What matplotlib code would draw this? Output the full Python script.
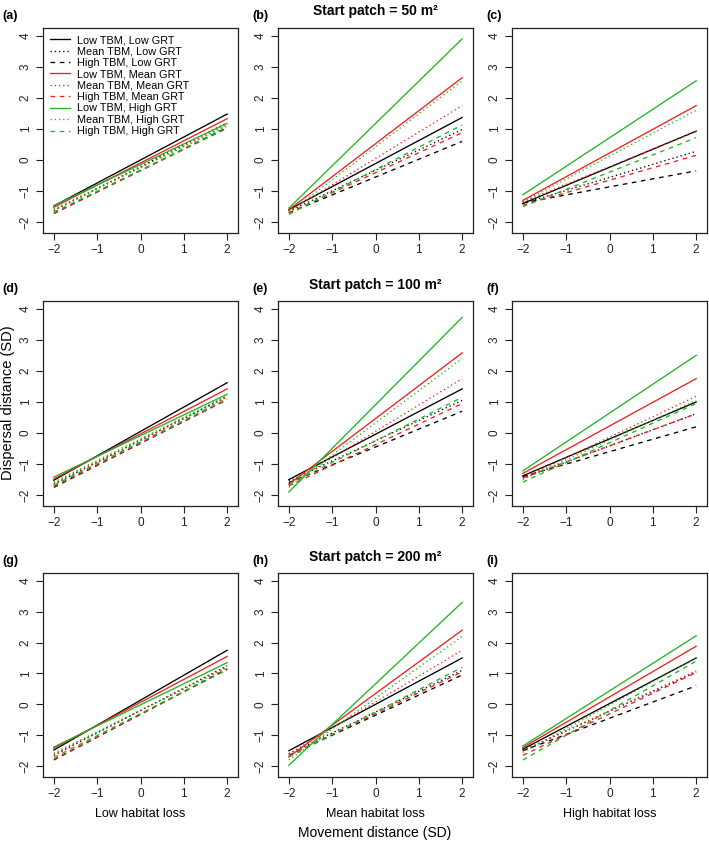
import matplotlib
matplotlib.use('Agg')
import matplotlib.pyplot as plt

plt.rcParams['font.family'] = ['Liberation Sans', 'DejaVu Sans']

# x range of the movement distance (SD)
x_ends = [-2, 2]

series_labels = ['Low TBM, Low GRT', 'Mean TBM, Low GRT', 'High TBM, Low GRT',
                 'Low TBM, Mean GRT', 'Mean TBM, Mean GRT', 'High TBM, Mean GRT',
                 'Low TBM, High GRT', 'Mean TBM, High GRT', 'High TBM, High GRT']

row_titles = ['Start patch = 50 m²', 'Start patch = 100 m²', 'Start patch = 200 m²']
col_labels = ['Low habitat loss', 'Mean habitat loss', 'High habitat loss']
panel_tags = ['(a)', '(b)', '(c)', '(d)', '(e)', '(f)', '(g)', '(h)', '(i)']

# dispersal distance at x=-2 and x=2, one pair per series (legend order)
a_start = [-1.48, -1.62, -1.72, -1.52, -1.62, -1.72, -1.47, -1.58, -1.68]
a_end = [1.48, 1.20, 1.05, 1.33, 1.14, 1.03, 1.18, 1.09, 1.02]
b_start = [-1.60, -1.65, -1.70, -1.60, -1.65, -1.70, -1.55, -1.70, -1.75]
b_end = [1.37, 0.98, 0.60, 2.65, 1.75, 0.88, 3.90, 2.55, 1.13]
c_start = [-1.40, -1.40, -1.38, -1.30, -1.35, -1.45, -1.12, -1.35, -1.50]
c_end = [0.93, 0.28, -0.35, 1.75, 0.92, 0.15, 2.55, 1.60, 0.72]
d_start = [-1.52, -1.65, -1.75, -1.48, -1.62, -1.72, -1.42, -1.58, -1.68]
d_end = [1.62, 1.18, 1.08, 1.42, 1.15, 1.07, 1.25, 1.20, 1.10]
e_start = [-1.50, -1.55, -1.60, -1.65, -1.65, -1.70, -1.90, -1.75, -1.65]
e_end = [1.42, 1.05, 0.70, 2.58, 1.75, 0.95, 3.72, 2.40, 1.15]
f_start = [-1.38, -1.45, -1.40, -1.30, -1.45, -1.45, -1.22, -1.50, -1.58]
f_end = [1.00, 0.62, 0.20, 1.75, 1.18, 0.62, 2.50, 1.05, 0.95]
g_start = [-1.48, -1.65, -1.80, -1.42, -1.62, -1.78, -1.38, -1.58, -1.72]
g_end = [1.75, 1.25, 1.15, 1.55, 1.22, 1.13, 1.35, 1.18, 1.12]
h_start = [-1.50, -1.60, -1.65, -1.70, -1.60, -1.65, -1.97, -1.80, -1.70]
h_end = [1.50, 1.10, 0.95, 2.40, 1.75, 1.05, 3.30, 2.20, 1.20]
i_start = [-1.45, -1.50, -1.50, -1.40, -1.50, -1.65, -1.35, -1.55, -1.80]
i_end = [1.50, 1.05, 0.60, 1.88, 1.08, 1.03, 2.22, 1.50, 1.40]

starts = [a_start, b_start, c_start, d_start, e_start, f_start, g_start, h_start, i_start]
ends = [a_end, b_end, c_end, d_end, e_end, f_end, g_end, h_end, i_end]

colors = ['black'] * 3 + ['#ee2222'] * 3 + ['#22b422'] * 3
dashes = [None, (1, 2.2), (3.5, 3.5)] * 3

W, H = 709, 842
fig = plt.figure(figsize=(W / 100, H / 100), dpi=100)

col_px = [(43, 238), (278, 473), (512, 707)]
row_px = [(28, 233), (301, 506), (573, 777)]

for r in range(3):
    for c in range(3):
        k = r * 3 + c
        x0, x1 = col_px[c]
        y0, y1 = row_px[r]
        ax = fig.add_axes([x0 / W, 1 - y1 / H, (x1 - x0) / W, (y1 - y0) / H])
        for s in range(9):
            ln, = ax.plot(x_ends, [starts[k][s], ends[k][s]], color=colors[s], lw=0.95,
                          label=series_labels[s])
            if dashes[s] is not None:
                ln.set_dashes(dashes[s])
        ax.set_xlim(-2.25, 2.25)
        ax.set_ylim(-2.35, 4.25)
        ax.set_xticks([-2, -1, 0, 1, 2])
        ax.set_yticks([-2, -1, 0, 1, 2, 3, 4])
        ax.set_xticklabels(['\u22122', '\u22121', '0', '1', '2'])
        ax.set_yticklabels(['\u22122', '\u22121', '0', '1', '2', '3', '4'], rotation=90, va='center')
        ax.tick_params(direction='out', length=5, width=0.8, labelsize=8.5, pad=3, colors='#222222')
        for sp in ax.spines.values():
            sp.set_linewidth(0.9)
            sp.set_color('#222222')
        fig.text(2 / W if c == 0 else (x0 - 26) / W, 1 - (y0 - 12) / H, panel_tags[k],
                 fontsize=9, fontweight='bold', va='center', ha='left')
        if r == 2:
            ax.set_xlabel(col_labels[c], fontsize=9, labelpad=6)
        if r == 0 and c == 0:
            ax.legend(loc='upper left', frameon=False, fontsize=7.8, handlelength=1.8,
                      handletextpad=0.7, labelspacing=0.13, borderaxespad=0.25)
        if c == 1:
            ax.set_title(row_titles[r], fontsize=10, fontweight='bold', pad=9)

fig.text(8 / W, 1 - 403 / H, 'Dispersal distance (SD)', rotation=90, fontsize=10.5,
         va='center', ha='center')
fig.text(375 / W, 1 - 833 / H, 'Movement distance (SD)', fontsize=10, va='center', ha='center')

fig.savefig('out.png', dpi=100)
